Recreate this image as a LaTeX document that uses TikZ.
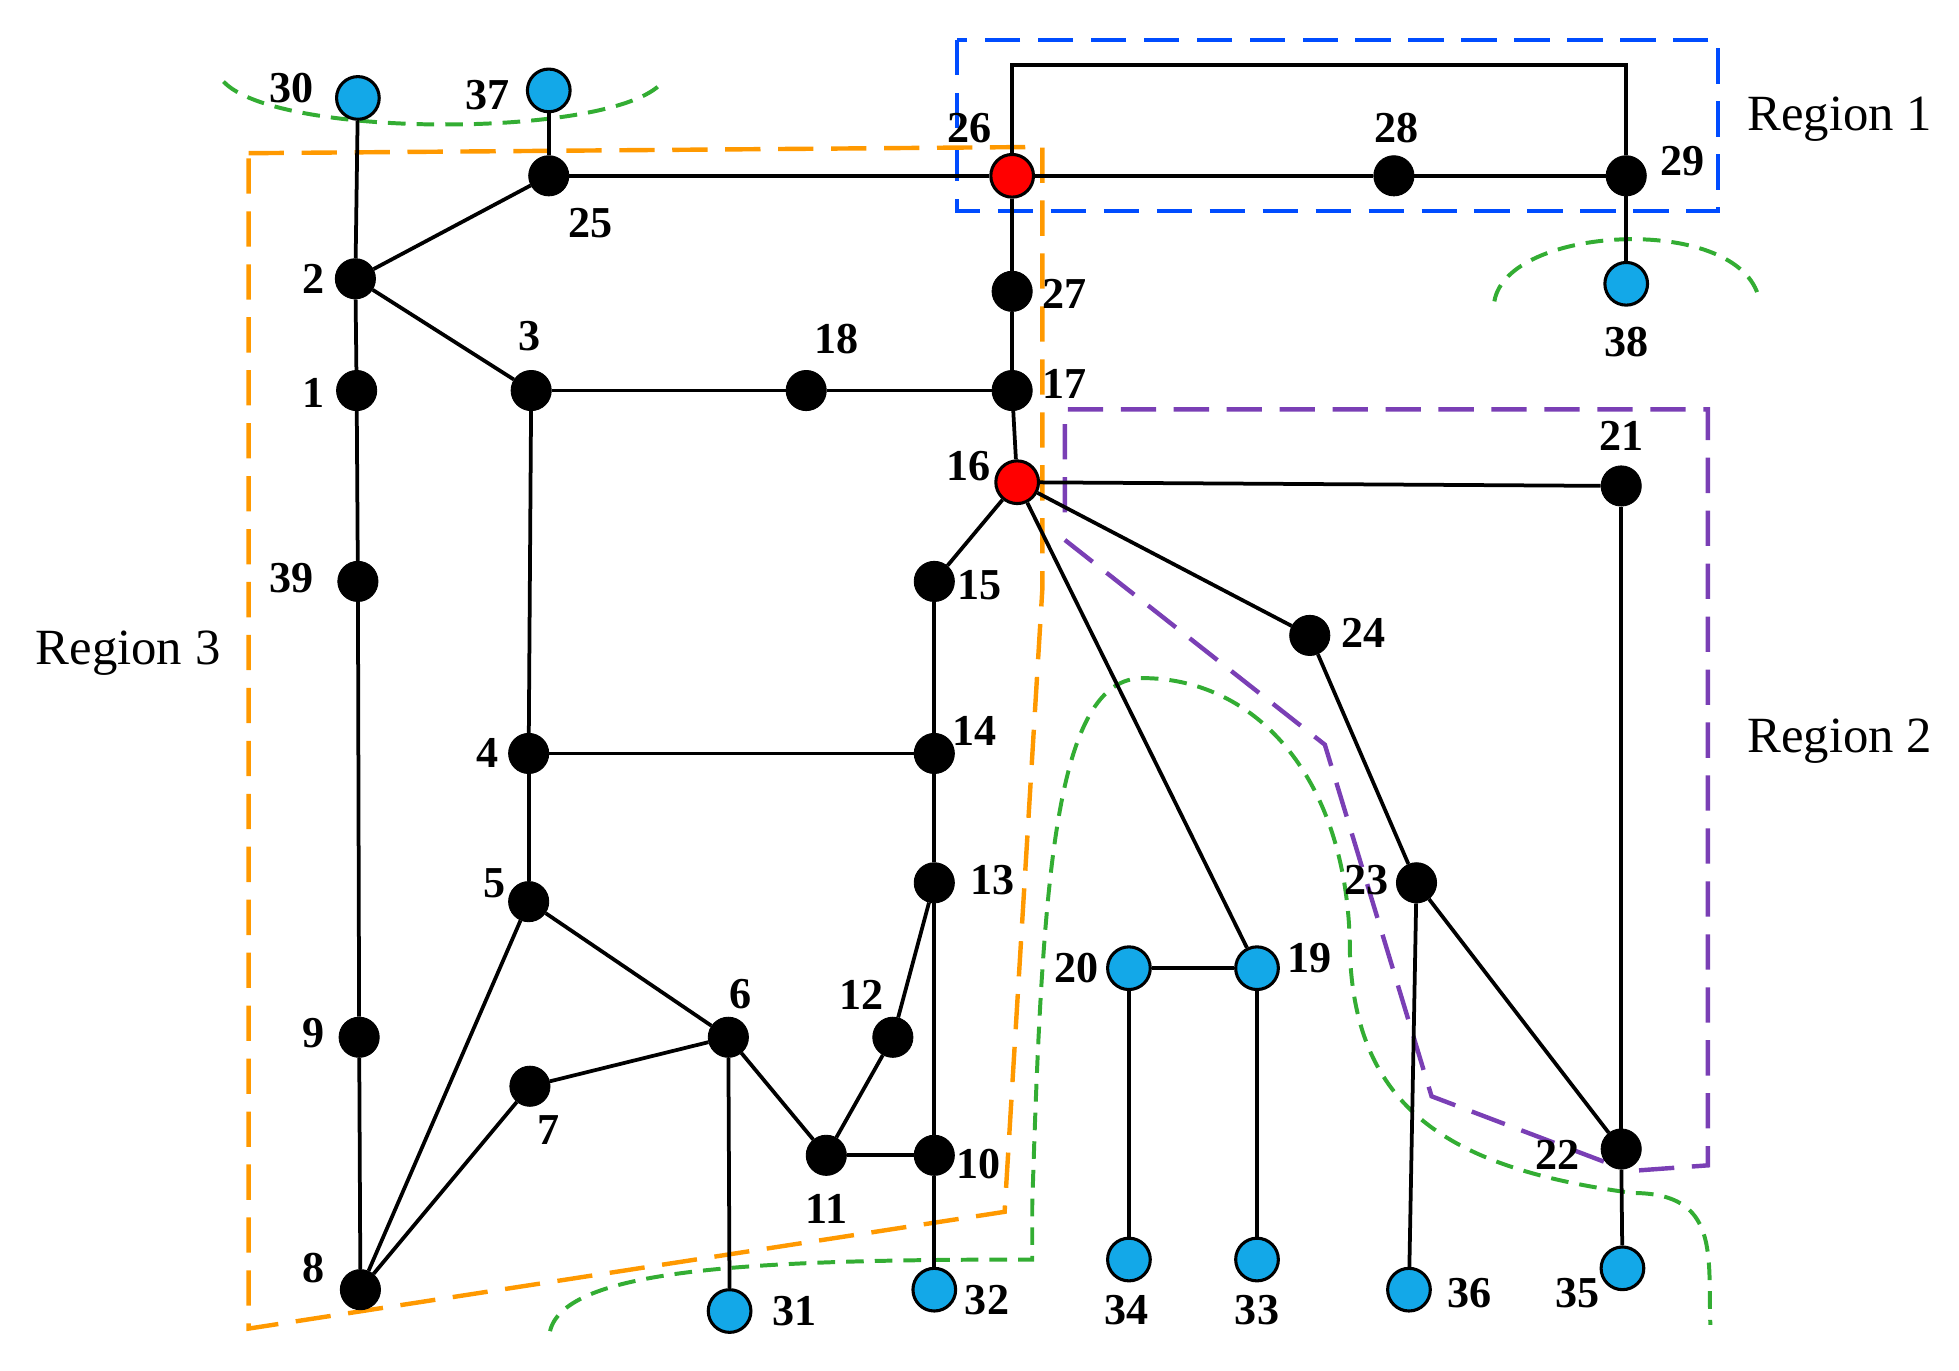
\documentclass[tikz,border=0pt]{standalone}
\usepackage{fontspec}
\setmainfont{Liberation Serif}
\definecolor{nb}{HTML}{13A8E8}
\definecolor{pv}{HTML}{7A3FB5}
\begin{document}
\begin{tikzpicture}[x=0.02cm,y=-0.02cm,
 bk/.style={circle,fill=black,draw=black,inner sep=0,minimum size=0.64cm},
 bl/.style={circle,fill=nb,draw=black,line width=1.4pt,inner sep=0,minimum size=0.68cm},
 rd/.style={circle,fill=red,draw=black,line width=1.4pt,inner sep=0,minimum size=0.68cm},
 lb/.style={font=\fontsize{20}{22}\selectfont\bfseries},
 rg/.style={font=\fontsize{23}{26}\selectfont},
 ln/.style={line width=1.7pt},
 gd/.style={green!60!black!80!white,line width=1.8pt,dash pattern=on 8pt off 5pt},
]
\useasboundingbox (0,0) rectangle (1560,1091);
% regions
\draw[blue!70!cyan,line width=2pt,dash pattern=on 16pt off 8pt] (762,32) rectangle (1368,168);
\draw[pv,line width=2pt,dash pattern=on 16pt off 8pt] (848,408) -- (848,326) -- (1360,326) -- (1360,928) -- (1305,932);
\draw[pv,line width=2pt,dash pattern=on 16pt off 8pt] (848,430) -- (1055,593) -- (1140,873) -- (1285,928);
\draw[orange!80!yellow,line width=2pt,dash pattern=on 16pt off 8pt] (198,122) -- (830,117) -- (830,470) -- (800,965) -- (198,1058) -- cycle;
\draw[gd] (178,65) .. controls (220,110) and (480,110) .. (525,68);
\draw[gd] (1190,240) .. controls (1200,180) and (1380,170) .. (1400,235);
\draw[gd] (438,1060) .. controls (450,1010) and (600,1003) .. (822,1003) -- (822,960) .. controls (830,700) and (840,540) .. (910,540) .. controls (1000,540) and (1075,620) .. (1075,760) .. controls (1080,880) and (1150,930) .. (1300,950) .. controls (1370,950) and (1360,1000) .. (1362,1055);
\node[rg] at (1465,95) {Region 1};
\node[rg] at (1465,590) {Region 2};
\node[rg] at (102,520) {Region 3};
% nodes
\foreach \n/\x/\y in {25/437/140,28/1110/140,29/1295/140,2/283/222,1/284/311,3/423/311,18/642/311,17/806/311,27/806/232,21/1291/387,39/285/463,15/744/463,24/1043/506,4/421/600,14/744/600,5/421/718,13/744/703,23/1128/703,9/286/826,6/580/826,12/711/826,7/422/865,11/658/920,10/744/920,22/1291/915,8/287/1027}
  \node[bk] (n\n) at (\x,\y) {};
\foreach \n/\x/\y in {30/285/78,37/437/72,38/1295/226,20/899/771,19/1001/771,31/581/1044,32/744/1027,34/899/1003,33/1001/1003,36/1122/1027,35/1292/1010}
  \node[bl] (n\n) at (\x,\y) {};
\node[rd] (n26) at (806,140) {};
\node[rd] (n16) at (810,384) {};
\coordinate (c1) at (806,52); \coordinate (c2) at (1295,52);
\foreach \a/\b in {30/2,37/25,2/25,25/26,26/28,28/29,29/38,26/27,27/17,2/1,2/3,3/18,18/17,17/16,16/21,16/15,16/24,16/19,1/39,39/9,9/8,3/4,4/14,15/14,14/13,13/10,13/12,12/11,11/10,10/32,4/5,5/6,5/8,8/7,7/6,6/11,6/31,21/22,24/23,23/22,23/36,22/35,20/19,20/34,19/33}
  \draw[ln] (n\a) -- (n\b);
\draw[ln] (n26) -- (c1) -- (c2) -- (n29);
% labels
\foreach \t/\x/\y in {30/232/70,37/388/76,25/470/178,26/772/102,28/1112/102,29/1340/128,38/1295/272,2/250/222,1/250/313,3/422/268,18/666/270,17/848/306,27/848/234,16/771/371,21/1291/347,39/232/460,15/780/466,24/1086/504,4/388/600,14/776/582,5/394/703,13/790/701,23/1088/701,20/857/771,19/1043/763,9/250/823,6/590/792,12/686/792,7/437/900,11/658/963,10/779/927,22/1240/920,8/250/1010,31/633/1044,32/786/1035,34/897/1043,33/1001/1043,36/1170/1030,35/1256/1030}
  \node[lb] at (\x,\y) {\t};
\end{tikzpicture}
\end{document}
